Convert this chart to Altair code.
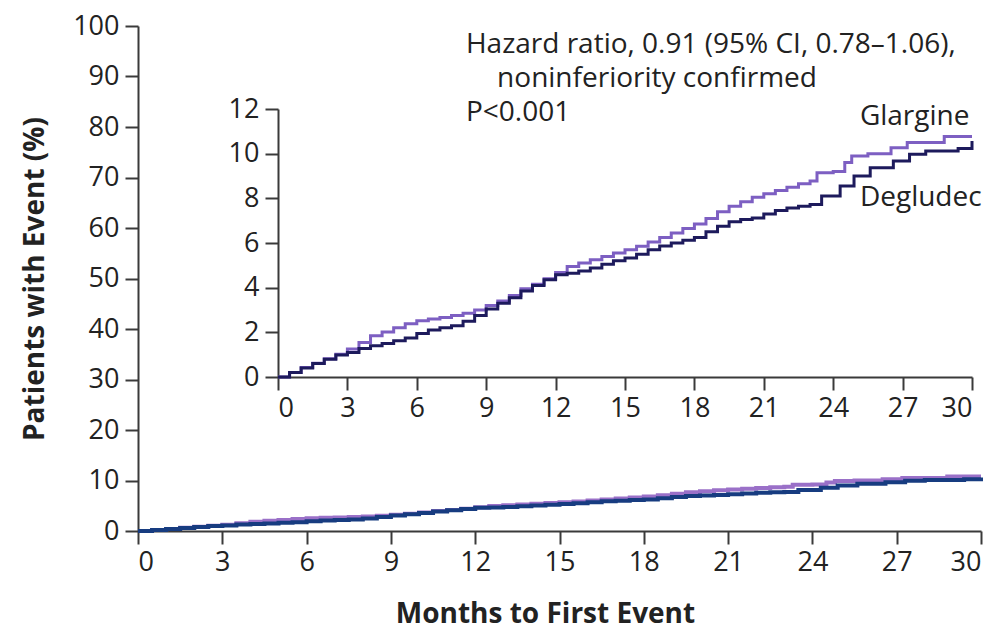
import altair as alt
import pandas as pd

# Kaplan-Meier style cumulative incidence (%)
glargine_months = [0, 0.5, 1, 1.5, 2, 2.5, 3, 3.5, 4, 4.5, 5, 5.5, 6, 6.5, 7, 7.5, 8, 8.5, 9, 9.5,
                   10, 10.5, 11, 11.5, 12, 12.5, 13, 13.5, 14, 14.5, 15, 15.5, 16, 16.5, 17, 17.5,
                   18, 18.5, 19, 19.5, 20, 20.5, 21, 21.5, 22, 22.5, 23, 23.3, 24, 24.5, 24.8,
                   25.5, 26.5, 27.2, 28.8, 30]
glargine_values = [0, 0.2, 0.42, 0.62, 0.82, 1.02, 1.25, 1.55, 1.85, 2.02, 2.2, 2.38, 2.52, 2.6, 2.66,
                   2.75, 2.85, 3.0, 3.2, 3.4, 3.65, 3.95, 4.15, 4.4, 4.68, 4.95, 5.1, 5.25, 5.4, 5.55,
                   5.7, 5.85, 6.05, 6.25, 6.45, 6.65, 6.85, 7.1, 7.4, 7.65, 7.85, 8.05, 8.2, 8.35,
                   8.5, 8.65, 8.78, 9.15, 9.2, 9.6, 9.9, 10.0, 10.27, 10.5, 10.77, 10.77]

degludec_months = [0, 0.5, 1, 1.5, 2, 2.5, 3, 3.5, 4, 4.5, 5, 5.5, 6, 6.5, 7, 7.5, 8, 8.5, 9, 9.5,
                   10, 10.5, 11, 11.5, 12, 12.5, 13, 13.5, 14, 14.5, 15, 15.5, 16, 16.5, 17, 17.5,
                   18, 18.5, 19, 19.5, 20, 20.5, 21, 21.5, 22, 22.5, 23, 23.5, 24.3, 24.9, 25.6,
                   26.6, 27.3, 28.0, 29.4, 30]
degludec_values = [0, 0.2, 0.4, 0.6, 0.8, 0.98, 1.1, 1.28, 1.4, 1.5, 1.62, 1.75, 1.95, 2.1, 2.2, 2.3,
                   2.5, 2.75, 3.05, 3.3, 3.55, 3.85, 4.1, 4.35, 4.58, 4.65, 4.75, 4.88, 5.05, 5.2,
                   5.33, 5.5, 5.7, 5.87, 6.0, 6.12, 6.25, 6.5, 6.75, 6.95, 7.05, 7.12, 7.3, 7.45,
                   7.57, 7.65, 7.72, 8.1, 8.55, 9.0, 9.37, 9.67, 9.97, 10.12, 10.23, 10.57]

x_ticks = [0, 3, 6, 9, 12, 15, 18, 21, 24, 27, 30]
main_y_ticks = [0, 10, 20, 30, 40, 50, 60, 70, 80, 90, 100]
inset_y_ticks = [0, 2, 4, 6, 8, 10, 12]

annotations = pd.DataFrame({
    "text": ["Hazard ratio, 0.91 (95% CI, 0.78\u20131.06),", "noninferiority confirmed", "P<0.001",
             "Glargine", "Degludec"],
    "month": [11.67, 12.78, 11.67, 25.69, 25.69],
    "pct": [96.2, 89.5, 82.8, 82.0, 65.9],
})

g = pd.DataFrame({"month": glargine_months, "pct": glargine_values})
d = pd.DataFrame({"month": degludec_months, "pct": degludec_values})

FONT = "Open Sans"
AX = "#3a3a3a"
TXT = "#222222"

axis_common = dict(
    domainColor=AX, tickColor=AX, domainWidth=2, tickWidth=2, tickSize=13,
    labelFont=FONT, labelFontSize=27, labelColor=TXT, grid=False,
)

main_x = alt.X("month:Q", scale=alt.Scale(domain=[0, 30], nice=False, zero=False),
               axis=alt.Axis(values=x_ticks, labelPadding=5, title="Months to First Event",
                             titleFont=FONT, titleFontSize=28, titleFontWeight="bold",
                             titleColor=TXT, titleX=407, titleY=91, titleBaseline="alphabetic",
                             titleAlign="center", **axis_common))
main_y = alt.Y("pct:Q", scale=alt.Scale(domain=[0, 100], nice=False),
               axis=alt.Axis(values=main_y_ticks, labelPadding=6, title="Patients with Event (%)",
                             titleFont=FONT, titleFontSize=28, titleFontWeight="bold",
                             titleColor=TXT, titleX=-103, titleY=252.5, titleAngle=-90,
                             titleBaseline="middle", titleAlign="center", **axis_common))

main_g = alt.Chart(g).mark_line(interpolate="step-after", strokeWidth=4, color="#9a70c8").encode(x=main_x, y=main_y)
main_d = alt.Chart(d).mark_line(interpolate="step-after", strokeWidth=4, color="#173c80").encode(x=main_x, y=main_y)

texts = alt.Chart(annotations).mark_text(align="left", baseline="middle", font=FONT, fontSize=28,
                                         color=TXT).encode(x=alt.X("month:Q"), y=alt.Y("pct:Q"),
                                                           text="text:N")

main = alt.layer(main_g, main_d, texts)

inset_x = alt.X("month:Q", scale=alt.Scale(domain=[0, 30], range=[140, 834], nice=False, zero=False),
                axis=alt.Axis(values=x_ticks, orient="bottom", offset=-154, labelPadding=5, title=None,
                              **axis_common))
inset_y = alt.Y("pct:Q", scale=alt.Scale(domain=[0, 12], range=[351, 83], nice=False),
                axis=alt.Axis(values=inset_y_ticks, orient="left", offset=-140, labelPadding=6,
                              title=None, **axis_common))

inset_g = alt.Chart(g).mark_line(interpolate="step-after", strokeWidth=3, color="#7d5fc2").encode(x=inset_x, y=inset_y)
inset_d = alt.Chart(d).mark_line(interpolate="step-after", strokeWidth=3, color="#1d1a5c").encode(x=inset_x, y=inset_y)
inset = alt.layer(inset_g, inset_d)

chart = alt.layer(main, inset).resolve_scale(x="independent", y="independent").properties(
    width=843, height=505,
    autosize=alt.AutoSizeParams(type="none"),
    padding={"left": 130, "top": 18, "right": 10, "bottom": 92},
).configure_view(stroke=None)

chart.save("out.html", embed_options={"renderer": "svg", "actions": False})
